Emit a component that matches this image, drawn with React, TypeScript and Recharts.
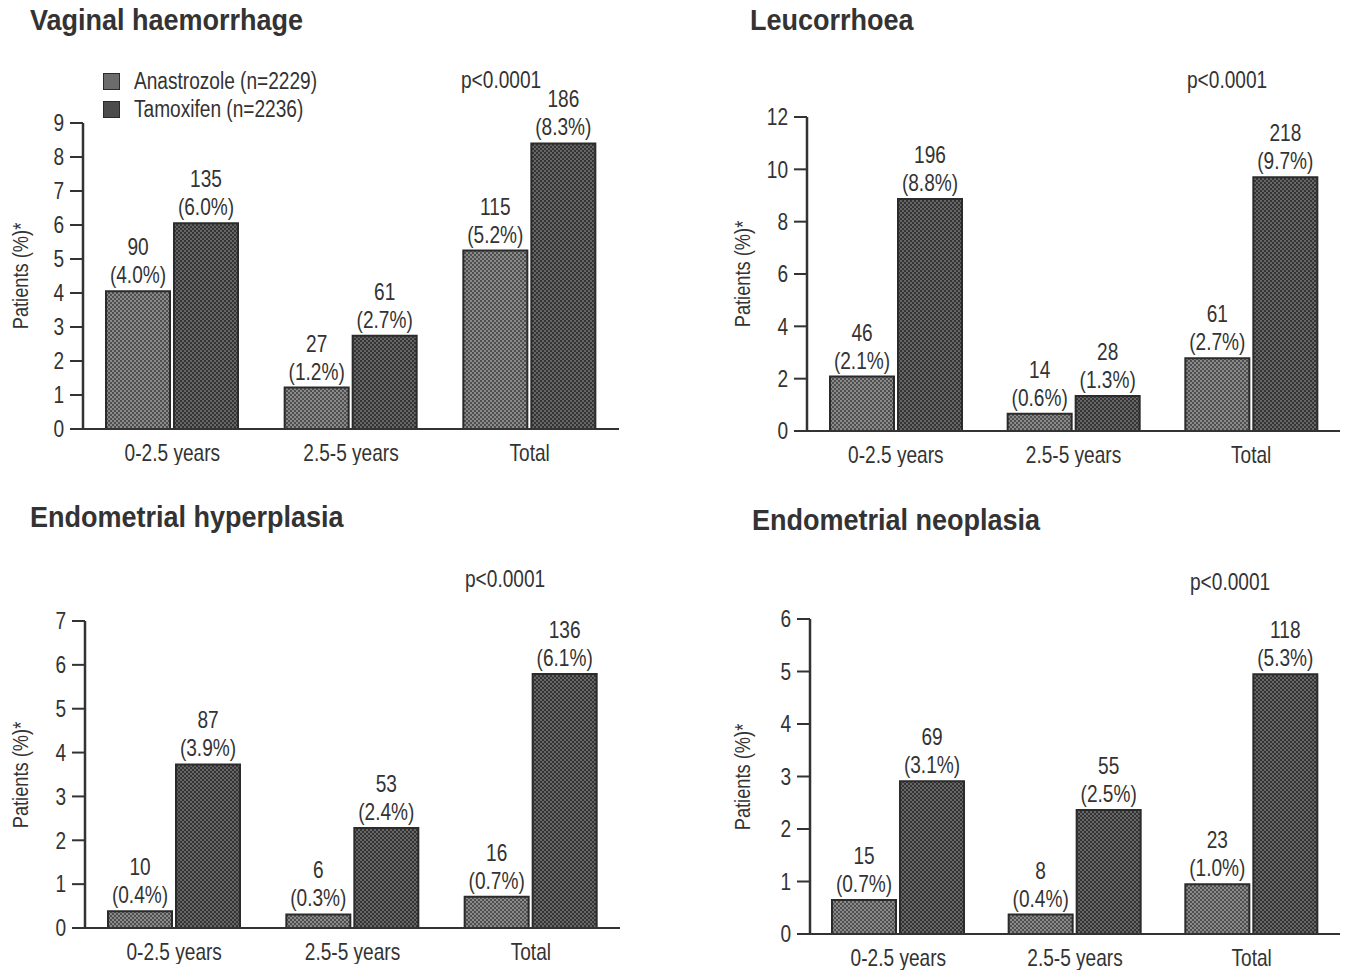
import { BarChart, Bar, XAxis, YAxis, LabelList } from "recharts";

const categories = ["0-2.5 years", "2.5-5 years", "Total"];

// Vaginal haemorrhage
const vhAnastrozole = [4.05, 1.22, 5.25];
const vhTamoxifen = [6.05, 2.74, 8.4];
const vhAnaCount = [90, 27, 115];
const vhTamCount = [135, 61, 186];
const vhAnaPct = ["4.0", "1.2", "5.2"];
const vhTamPct = ["6.0", "2.7", "8.3"];

// Leucorrhoea
const leAnastrozole = [2.08, 0.66, 2.78];
const leTamoxifen = [8.87, 1.34, 9.7];
const leAnaCount = [46, 14, 61];
const leTamCount = [196, 28, 218];
const leAnaPct = ["2.1", "0.6", "2.7"];
const leTamPct = ["8.8", "1.3", "9.7"];

// Endometrial hyperplasia
const ehAnastrozole = [0.38, 0.31, 0.71];
const ehTamoxifen = [3.73, 2.28, 5.79];
const ehAnaCount = [10, 6, 16];
const ehTamCount = [87, 53, 136];
const ehAnaPct = ["0.4", "0.3", "0.7"];
const ehTamPct = ["3.9", "2.4", "6.1"];

// Endometrial neoplasia
const enAnastrozole = [0.65, 0.37, 0.95];
const enTamoxifen = [2.91, 2.36, 4.95];
const enAnaCount = [15, 8, 23];
const enTamCount = [69, 55, 118];
const enAnaPct = ["0.7", "0.4", "1.0"];
const enTamPct = ["3.1", "2.5", "5.3"];

// no narrow font installed -> Liberation Sans squeezed horizontally
const FONT = "'Liberation Sans', Arial, sans-serif";
const SQ = 0.83;
const ANA_FILL = "#6c6c6c";
const TAM_FILL = "#4c4c4c";
const EDGE = "#2b2b2b";
const INK = "#333";

function buildRows(ana: number[], tam: number[], anaN: number[], tamN: number[], anaP: string[], tamP: string[]) {
  return categories.map((c, i) => ({
    name: c,
    anastrozole: ana[i],
    tamoxifen: tam[i],
    anaLabel: `${anaN[i]}|(${anaP[i]}%)`,
    tamLabel: `${tamN[i]}|(${tamP[i]}%)`,
  }));
}

function TwoLineLabel(props: any) {
  const { x, y, width, value } = props;
  const [count, pct] = String(value).split("|");
  const cx = x + width / 2;
  return (
    <g transform={`translate(${cx},${y}) scale(${SQ},1)`}>
      <text textAnchor="middle" fontFamily={FONT} fontSize={23} fill={INK}>
        <tspan x={0} y={-36}>{count}</tspan>
        <tspan x={0} y={-8}>{pct}</tspan>
      </text>
    </g>
  );
}

function XTick(props: any) {
  const { x, y, payload } = props;
  return (
    <text
      transform={`translate(${x},${y}) scale(${SQ},1)`}
      textAnchor="middle"
      dy="0.71em"
      fontFamily={FONT}
      fontSize={23}
      fill={INK}
    >
      {payload.value}
    </text>
  );
}

function YTick(props: any) {
  const { x, y, payload } = props;
  return (
    <text
      transform={`translate(${x},${y}) scale(${SQ},1)`}
      textAnchor="end"
      dy="0.36em"
      fontFamily={FONT}
      fontSize={23}
      fill={INK}
    >
      {payload.value}
    </text>
  );
}

const narrow = {
  fontFamily: FONT,
  color: INK,
  whiteSpace: "nowrap" as const,
  transformOrigin: "0 50%",
  transform: `scaleX(${SQ})`,
};

function LegendBox() {
  const items = [
    { label: "Anastrozole (n=2229)", fill: ANA_FILL },
    { label: "Tamoxifen (n=2236)", fill: TAM_FILL },
  ];
  return (
    <div style={{ position: "absolute", left: 103, top: 67 }}>
      {items.map((it) => (
        <div key={it.label} style={{ display: "flex", alignItems: "center", height: 28 }}>
          <div style={{ width: 15, height: 15, background: it.fill, border: `1.5px solid ${EDGE}`, marginRight: 14, flex: "none" }} />
          <span style={{ ...narrow, fontSize: 23, display: "inline-block" }}>{it.label}</span>
        </div>
      ))}
    </div>
  );
}

// checkered halftone like the printed original
function Halftone({ id, light, dark }: { id: string; light: string; dark: string }) {
  return (
    <pattern id={id} width={4} height={4} patternUnits="userSpaceOnUse">
      <rect width={4} height={4} fill={light} />
      <rect width={2} height={2} fill={dark} />
      <rect x={2} y={2} width={2} height={2} fill={dark} />
    </pattern>
  );
}

interface PanelProps {
  id: string;
  title: string;
  left: number;
  top: number;
  plotLeft: number;
  plotRight: number;
  plotTop: number;
  plotBottom: number;
  yMax: number;
  ticks: number[];
  rows: any[];
  pLeft: number;
  pTop: number;
  titleTop: number;
  titleLeft: number;
}

function Panel(p: PanelProps) {
  const width = p.plotRight - p.left + 6;
  const xAxisH = 36;
  const height = p.plotBottom - p.top + xAxisH;
  const yAxisW = 60;
  const midY = (p.plotTop + p.plotBottom) / 2;
  return (
    <>
      <div
        style={{
          position: "absolute",
          left: p.titleLeft,
          top: p.titleTop,
          fontFamily: FONT,
          fontWeight: "bold",
          fontSize: 30,
          color: INK,
          whiteSpace: "nowrap",
          transformOrigin: "0 50%",
          transform: "scaleX(0.9)",
        }}
      >
        {p.title}
      </div>
      <div style={{ ...narrow, position: "absolute", left: p.pLeft, top: p.pTop, fontSize: 23 }}>p&lt;0.0001</div>
      <div
        style={{
          position: "absolute",
          left: p.left + 21 - 80,
          top: midY - 13,
          width: 160,
          textAlign: "center",
          transform: `rotate(-90deg) scaleX(${SQ})`,
          fontFamily: FONT,
          fontSize: 22,
          color: INK,
          whiteSpace: "nowrap",
        }}
      >
        Patients (%)*
      </div>
      <div style={{ position: "absolute", left: p.left, top: p.top }}>
        <BarChart
          width={width}
          height={height}
          data={p.rows}
          margin={{ top: p.plotTop - p.top, right: width - (p.plotRight - p.left), left: p.plotLeft - p.left - yAxisW, bottom: 0 }}
          barGap={4}
        >
          <defs>
            <Halftone id={`${p.id}-ana`} light="#8a8a8a" dark="#4f4f4f" />
            <Halftone id={`${p.id}-tam`} light="#666" dark="#343434" />
          </defs>
          <XAxis
            dataKey="name"
            tickLine={false}
            axisLine={{ stroke: INK, strokeWidth: 2 }}
            tickMargin={10}
            height={xAxisH}
            tick={<XTick />}
          />
          <YAxis
            width={yAxisW}
            domain={[0, p.yMax]}
            ticks={p.ticks}
            interval={0}
            tickSize={13}
            tickMargin={6}
            tickLine={{ stroke: INK, strokeWidth: 2 }}
            axisLine={{ stroke: INK, strokeWidth: 2.5 }}
            tick={<YTick />}
          />
          <Bar dataKey="anastrozole" fill={`url(#${p.id}-ana)`} stroke={EDGE} strokeWidth={2} barSize={64} isAnimationActive={false}>
            <LabelList dataKey="anaLabel" content={TwoLineLabel} />
          </Bar>
          <Bar dataKey="tamoxifen" fill={`url(#${p.id}-tam)`} stroke={EDGE} strokeWidth={2} barSize={64} isAnimationActive={false}>
            <LabelList dataKey="tamLabel" content={TwoLineLabel} />
          </Bar>
        </BarChart>
      </div>
    </>
  );
}

export default function App() {
  return (
    <div style={{ position: "absolute", left: 0, top: 0, width: 1346, height: 970, background: "#fff", overflow: "hidden" }}>
      <Panel
        id="vh"
        title="Vaginal haemorrhage"
        titleLeft={30}
        titleTop={3}
        left={0}
        top={0}
        plotLeft={83}
        plotRight={619}
        plotTop={123}
        plotBottom={429}
        yMax={9}
        ticks={[0, 1, 2, 3, 4, 5, 6, 7, 8, 9]}
        rows={buildRows(vhAnastrozole, vhTamoxifen, vhAnaCount, vhTamCount, vhAnaPct, vhTamPct)}
        pLeft={461}
        pTop={67}
      />
      <LegendBox />
      <Panel
        id="le"
        title="Leucorrhoea"
        titleLeft={750}
        titleTop={3}
        left={722}
        top={0}
        plotLeft={807}
        plotRight={1340}
        plotTop={117}
        plotBottom={431}
        yMax={12}
        ticks={[0, 2, 4, 6, 8, 10, 12]}
        rows={buildRows(leAnastrozole, leTamoxifen, leAnaCount, leTamCount, leAnaPct, leTamPct)}
        pLeft={1187}
        pTop={67}
      />
      <Panel
        id="eh"
        title="Endometrial hyperplasia"
        titleLeft={30}
        titleTop={500}
        left={0}
        top={497}
        plotLeft={85}
        plotRight={620}
        plotTop={621}
        plotBottom={928}
        yMax={7}
        ticks={[0, 1, 2, 3, 4, 5, 6, 7]}
        rows={buildRows(ehAnastrozole, ehTamoxifen, ehAnaCount, ehTamCount, ehAnaPct, ehTamPct)}
        pLeft={465}
        pTop={566}
      />
      <Panel
        id="en"
        title="Endometrial neoplasia"
        titleLeft={752}
        titleTop={503}
        left={722}
        top={497}
        plotLeft={810}
        plotRight={1340}
        plotTop={619}
        plotBottom={934}
        yMax={6}
        ticks={[0, 1, 2, 3, 4, 5, 6]}
        rows={buildRows(enAnastrozole, enTamoxifen, enAnaCount, enTamCount, enAnaPct, enTamPct)}
        pLeft={1190}
        pTop={569}
      />
    </div>
  );
}
